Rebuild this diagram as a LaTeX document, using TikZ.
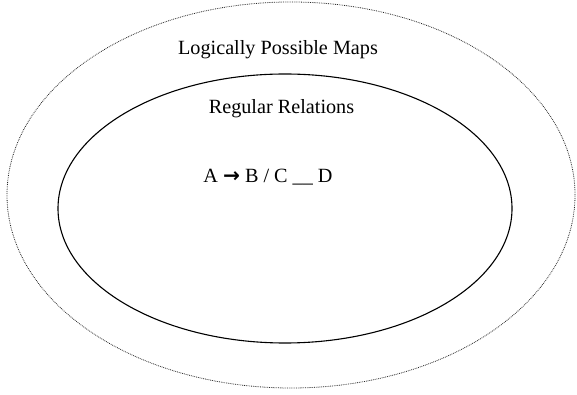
\documentclass[tikz,border=0pt]{standalone}
\usepackage{fontspec}
\setmainfont{Liberation Serif}
\newfontfamily\arrowfont{DejaVu Sans}
\usetikzlibrary{positioning}
\tikzset{
    setdiagram/.style={x=1pt, y=1pt, font=\fontsize{20.2}{24}\selectfont},
    outerset/.style={draw=black!85, densely dotted, line width=0.8pt},
    innerset/.style={draw, line width=1.1pt},
    setlabel/.style={anchor=base, inner sep=0pt},
}

\begin{document}
\begin{tikzpicture}[setdiagram]
        \useasboundingbox (0,0) rectangle (577,395);
        \coordinate (outerc) at (291,200);
        \coordinate (innerc) at (285,186.5);

        % the two sets
        \draw[outerset] (outerc) ellipse [x radius=284, y radius=193];
        \draw[innerset] (innerc) ellipse [x radius=227, y radius=134.5];

        % labels
        \node[setlabel] (maps)  at (278,340) {Logically Possible Maps};
        \node[setlabel] (regul) at (281.5,281) {Regular Relations};
        \node[setlabel] (rule)  at (268,212) {A {\arrowfont\bfseries →} B / C \_\_ D};
    \end{tikzpicture}
\end{document}
